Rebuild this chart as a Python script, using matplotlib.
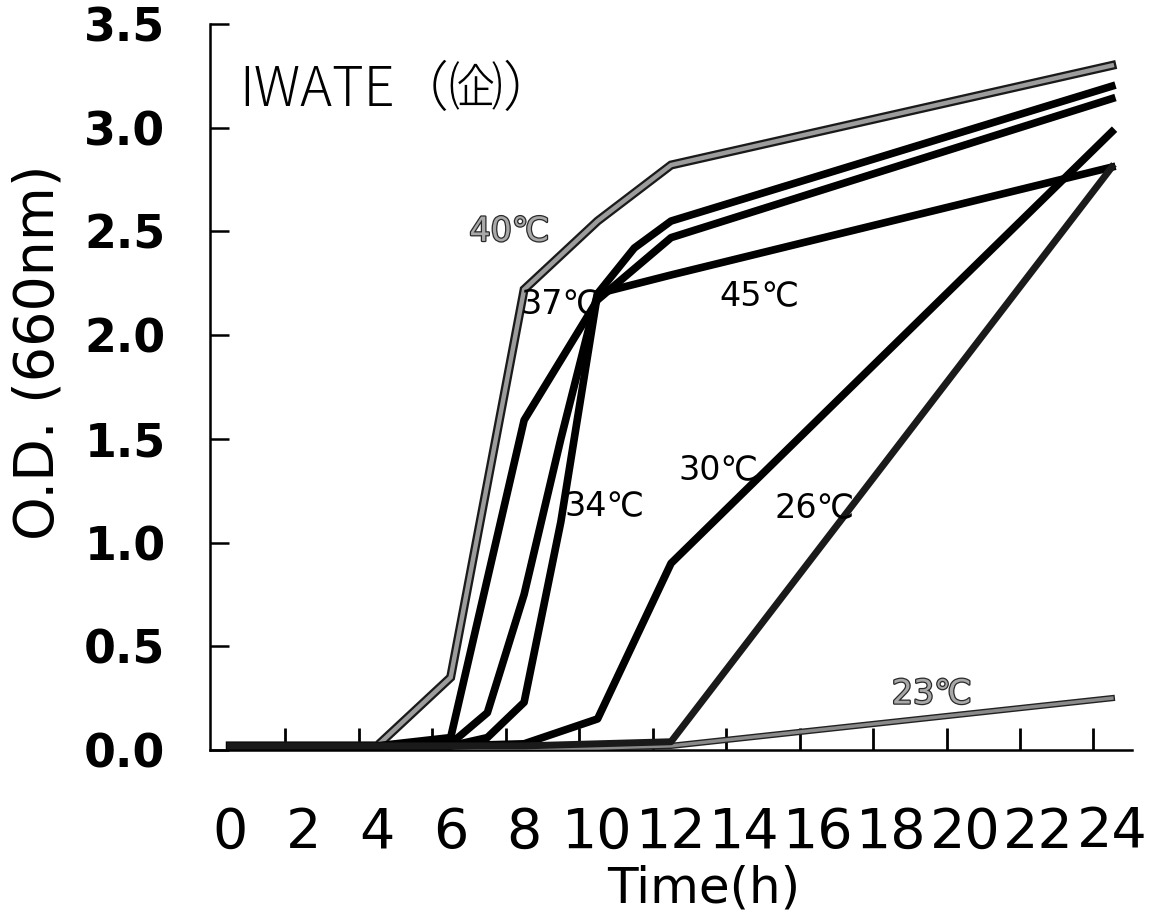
import matplotlib
matplotlib.use("Agg")
import matplotlib.pyplot as plt
import matplotlib.patheffects as pe

# Growth curves of the IWATE strain at different temperatures
hours_40 = [0, 2, 4, 6, 8, 10, 12, 24]
od_40 = [0.02, 0.02, 0.02, 0.35, 2.22, 2.55, 2.82, 3.30]

hours_37 = [0, 2, 4, 6, 8, 10, 12, 24]
od_37 = [0.02, 0.02, 0.02, 0.06, 1.59, 2.17, 2.47, 3.14]

hours_34 = [0, 2, 4, 6, 7, 8, 9, 10, 11, 12, 24]
od_34 = [0.02, 0.02, 0.02, 0.03, 0.18, 0.75, 1.50, 2.20, 2.42, 2.55, 3.20]

hours_45 = [0, 2, 4, 6, 7, 8, 9, 10, 12, 24]
od_45 = [0.02, 0.02, 0.02, 0.02, 0.06, 0.23, 1.10, 2.20, 2.29, 2.81]

hours_30 = [0, 2, 4, 6, 8, 10, 12, 24]
od_30 = [0.02, 0.02, 0.02, 0.02, 0.03, 0.15, 0.90, 2.98]

hours_26 = [0, 2, 4, 6, 8, 10, 12, 24]
od_26 = [0.02, 0.02, 0.02, 0.02, 0.02, 0.03, 0.04, 2.81]

hours_23 = [0, 2, 4, 6, 8, 10, 12, 24]
od_23 = [0.01, 0.01, 0.01, 0.01, 0.01, 0.01, 0.02, 0.25]

x_ticks = list(range(0, 25, 2))
y_ticks = [0.0, 0.5, 1.0, 1.5, 2.0, 2.5, 3.0, 3.5]
y_tick_labels = ["0.0", "0.5", "1.0", "1.5", "2.0", "2.5", "3.0", "3.5"]

curve_labels = [
    ("40℃", 7.6, 2.50, "gray"),
    ("37℃", 9.0, 2.15, "black"),
    ("45℃", 14.4, 2.19, "black"),
    ("34℃", 10.2, 1.18, "black"),
    ("30℃", 13.3, 1.35, "black"),
    ("26℃", 15.9, 1.17, "black"),
    ("23℃", 19.1, 0.27, "gray"),
]

fig = plt.figure(figsize=(11.65, 9.15), dpi=100)
ax = fig.add_axes([0.1803, 0.1803, 0.7914, 0.7935])

hatched = [pe.Stroke(linewidth=6.5, foreground="#1a1a1a"), pe.Normal()]
hatched_thin = [pe.Stroke(linewidth=4.5, foreground="#222222"), pe.Normal()]

ax.plot(hours_40, od_40, color="#9c9c9c", lw=3.2, path_effects=hatched,
        solid_joinstyle="miter", zorder=3)
for h, od in [(hours_37, od_37), (hours_34, od_34), (hours_45, od_45),
              (hours_30, od_30)]:
    ax.plot(h, od, color="black", lw=5.5, solid_joinstyle="round", zorder=4)
ax.plot(hours_26, od_26, color="#1a1a1a", lw=5.0, zorder=4)
ax.plot(hours_23, od_23, color="#8a8a8a", lw=2.5, path_effects=hatched_thin,
        zorder=3)

for text, hx, vy, col in curve_labels:
    if col == "gray":
        ax.text(hx, vy, text, fontsize=24, color="#a8a8a8", ha="center",
                va="center", zorder=5,
                path_effects=[pe.withStroke(linewidth=1.8, foreground="#2a2a2a")])
    else:
        ax.text(hx, vy, text, fontsize=24, color="black", ha="center",
                va="center", zorder=5)

ax.text(0.25, 3.18, "IWATE（㈽）", fontsize=39, ha="left", va="center",
        family=["Noto Sans CJK JP", "DejaVu Sans"], fontweight="light")

ax.set_xlim(-0.55, 24.55)
ax.set_ylim(0, 3.5)

ax.spines["top"].set_visible(False)
ax.spines["right"].set_visible(False)
ax.spines["left"].set_linewidth(1.8)
ax.spines["bottom"].set_linewidth(1.8)

ax.set_xticks(x_ticks)
ax.set_xticklabels([str(t) for t in x_ticks], fontsize=40)
ax.set_xticks([t + 1.5 for t in range(0, 24, 2)], minor=True)
ax.tick_params(axis="x", which="major", length=0, pad=40)
ax.tick_params(axis="x", which="minor", direction="in", length=16, width=2)

ax.set_yticks(y_ticks)
ax.set_yticklabels(y_tick_labels, fontsize=33, fontweight="bold")
ax.tick_params(axis="y", which="major", direction="in", length=14, width=1.8,
               pad=32)

ax.set_xlabel("Time(h)", fontsize=36, va="top")
ax.xaxis.set_label_coords(0.535, -0.157)
ax.set_ylabel("O.D. (660nm)", fontsize=40, va="center")
ax.yaxis.set_label_coords(-0.186, 0.548)

fig.savefig("out.png", dpi=100, facecolor="white")
